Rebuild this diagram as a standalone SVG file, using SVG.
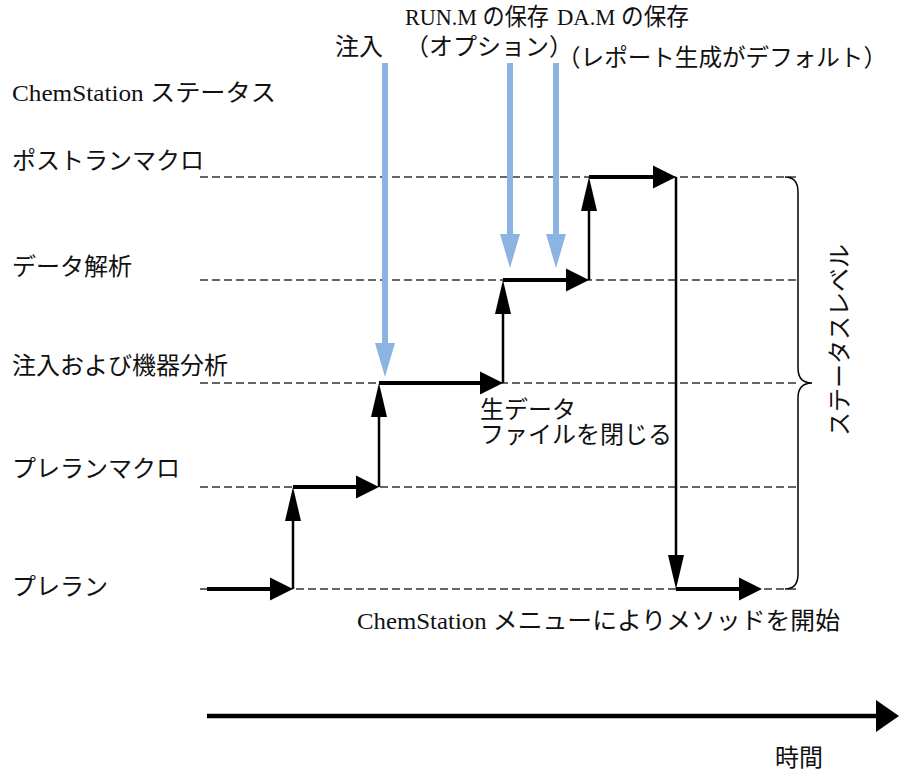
<svg xmlns="http://www.w3.org/2000/svg" width="899" height="771" viewBox="0 0 899 771">
<style>
text{font-family:"Liberation Serif","Noto Sans CJK JP",serif;font-size:24px;fill:#111}
.dash{stroke:#333;stroke-width:1.3;stroke-dasharray:8 4;fill:none}
.h{stroke:#000;stroke-width:4;fill:none}
.v{stroke:#000;stroke-width:2.5;fill:none}
.blue{stroke:#8DB3E2;stroke-width:6;fill:none}
</style>
<defs>
<marker id="ah" markerUnits="userSpaceOnUse" markerWidth="23" markerHeight="23" refX="0" refY="11.5" orient="auto" overflow="visible"><path d="M0,0 L23,11.5 L0,23 z" fill="#000"/></marker>
<marker id="av" markerUnits="userSpaceOnUse" markerWidth="34" markerHeight="16" refX="0" refY="8" orient="auto" overflow="visible"><path d="M0,0 L34,8 L0,16 z" fill="#000"/></marker>
<marker id="ab" markerUnits="userSpaceOnUse" markerWidth="34" markerHeight="20" refX="0" refY="10" orient="auto" overflow="visible"><path d="M0,0 L34,10 L0,20 z" fill="#8DB3E2"/></marker>
<marker id="at" markerUnits="userSpaceOnUse" markerWidth="23" markerHeight="32" refX="0" refY="16" orient="auto" overflow="visible"><path d="M0,0 L23,16 L0,32 z" fill="#000"/></marker>
</defs>

<g id="levels">
<line class="dash" x1="200" y1="177" x2="800" y2="177"/>
<line class="dash" x1="200" y1="280" x2="800" y2="280"/>
<line class="dash" x1="200" y1="383" x2="800" y2="383"/>
<line class="dash" x1="200" y1="487" x2="800" y2="487"/>
<line class="dash" x1="200" y1="589" x2="800" y2="589"/>
</g>

<g id="title"><text x="12" y="101" textLength="264" lengthAdjust="spacingAndGlyphs">ChemStation ステータス</text></g>
<g id="level-postrun"><text x="12" y="169">ポストランマクロ</text></g>
<g id="level-data"><text x="12" y="275">データ解析</text></g>
<g id="level-inject"><text x="12" y="374">注入および機器分析</text></g>
<g id="level-premacro"><text x="12" y="477">プレランマクロ</text></g>
<g id="level-prerun"><text x="12" y="595">プレラン</text></g>

<g id="event-inject"><text x="335" y="55">注入</text></g>
<g id="event-runm">
<text x="405" y="25" textLength="144" lengthAdjust="spacingAndGlyphs">RUN.M の保存</text>
<text x="405" y="55">（オプション）</text>
</g>
<g id="event-dam">
<text x="557" y="25" textLength="132" lengthAdjust="spacingAndGlyphs">DA.M の保存</text>
<text x="557" y="66" textLength="330" lengthAdjust="spacingAndGlyphs">（レポート生成がデフォルト）</text>
</g>
<g id="note-close"><text x="480" y="418">生データ</text><text x="480" y="443">ファイルを閉じる</text></g>
<g id="note-start"><text x="357" y="629" textLength="483" lengthAdjust="spacingAndGlyphs">ChemStation メニューによりメソッドを開始</text></g>
<g id="axis-label"><text x="775" y="766">時間</text></g>
<g id="status-level">
<path d="M785,177 Q798,177 798,192 L798,368 Q798,383 812,383 Q798,383 798,398 L798,574 Q798,589 785,589" fill="none" stroke="#000" stroke-width="1.5"/>
<text transform="translate(848,340) rotate(-90)" text-anchor="middle">ステータスレベル</text>
</g>

<g id="connectors">
<line class="blue" x1="385" y1="63" x2="385" y2="343" marker-end="url(#ab)"/>
<line class="blue" x1="510" y1="63" x2="510" y2="234" marker-end="url(#ab)"/>
<line class="blue" x1="556" y1="63" x2="556" y2="234" marker-end="url(#ab)"/>

<line class="h" x1="207" y1="589" x2="270" y2="589" marker-end="url(#ah)"/>
<line class="v" x1="293" y1="589" x2="293" y2="521" marker-end="url(#av)"/>
<line class="h" x1="293" y1="487" x2="356" y2="487" marker-end="url(#ah)"/>
<line class="v" x1="379" y1="487" x2="379" y2="417" marker-end="url(#av)"/>
<line class="h" x1="379" y1="383" x2="480" y2="383" marker-end="url(#ah)"/>
<line class="v" x1="503" y1="383" x2="503" y2="314" marker-end="url(#av)"/>
<line class="h" x1="503" y1="280" x2="566" y2="280" marker-end="url(#ah)"/>
<line class="v" x1="589" y1="280" x2="589" y2="211" marker-end="url(#av)"/>
<line class="h" x1="589" y1="177" x2="653" y2="177" marker-end="url(#ah)"/>
<line class="v" x1="676" y1="177" x2="676" y2="555" marker-end="url(#av)"/>
<line class="h" x1="676" y1="589" x2="739" y2="589" marker-end="url(#ah)"/>

<line x1="207" y1="716" x2="876" y2="716" stroke="#000" stroke-width="4.5" marker-end="url(#at)"/>
</g>
</svg>
